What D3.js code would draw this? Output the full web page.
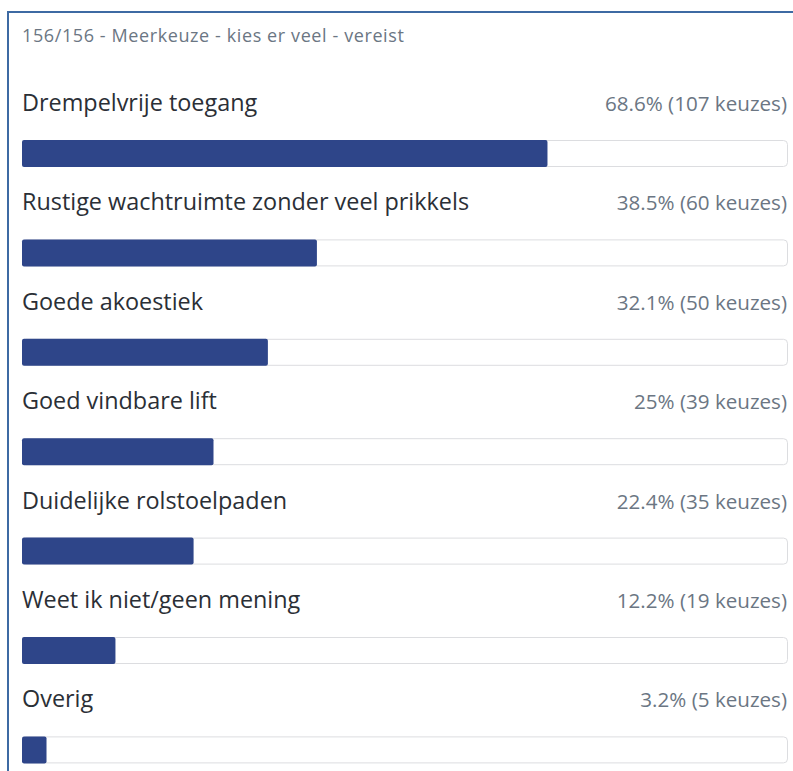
<!DOCTYPE html>
<html>
<head>
<meta charset="utf-8">
<script src="https://cdn.jsdelivr.net/npm/d3@7"></script>
<style>
  body { margin: 0; background: #fff; }
  text { font-family: "Open Sans", "Noto Sans", sans-serif; }
</style>
</head>
<body>
<div id="chart"></div>
<script>
// data
var title = "156/156 - Meerkeuze - kies er veel - vereist";
var options = ["Drempelvrije toegang", "Rustige wachtruimte zonder veel prikkels", "Goede akoestiek",
    "Goed vindbare lift", "Duidelijke rolstoelpaden", "Weet ik niet/geen mening", "Overig"];
var percents = [68.6, 38.5, 32.1, 25, 22.4, 12.2, 3.2];
var counts = [107, 60, 50, 39, 35, 19, 5];

var width = 793, height = 771;
var left = 22, right = 788;

const svg = d3.select("#chart")
    .append("svg")
    .attr("width", width)
    .attr("height", height);

// frame (top + left border only)
svg.append("line").attr("x1", 8).attr("x2", width).attr("y1", 12).attr("y2", 12)
    .attr("stroke", "#3d6aa3").attr("stroke-width", 2);
svg.append("line").attr("x1", 8).attr("x2", 8).attr("y1", 11).attr("y2", height)
    .attr("stroke", "#3d6aa3").attr("stroke-width", 2);

svg.append("text")
    .attr("x", left).attr("y", 42)
    .attr("fill", "#6b7683")
    .style("font-size", "18px")
    .style("letter-spacing", "0.6px")
    .text(title);

const x = d3.scaleLinear().domain([0, 100]).range([left, right]);
const y = d3.scalePoint().domain(options).range([103, 103 + 6 * 99.4]);

const rows = svg.selectAll(".row")
    .data(options)
    .join("g")
    .attr("class", "row")
    .attr("transform", d => `translate(0,${y(d)})`);

rows.append("text")
    .attr("x", left).attr("y", 8)
    .attr("fill", "#2b2f36")
    .style("font-size", "23.4px")
    .text(d => d);

rows.append("text")
    .attr("x", right - 1).attr("y", 8)
    .attr("text-anchor", "end")
    .attr("fill", "#6b7683")
    .style("font-size", "20.6px")
    .text((d, i) => percents[i] + "% (" + counts[i] + " keuzes)");

// track
rows.append("rect")
    .attr("x", x(0) + 0.5).attr("y", 37.5)
    .attr("width", x(100) - x(0) - 1).attr("height", 26)
    .attr("rx", 4)
    .attr("fill", "#fff")
    .attr("stroke", "#dcdde0");

// bar
rows.append("rect")
    .attr("x", x(0)).attr("y", 37)
    .attr("width", (d, i) => x(percents[i]) - x(0))
    .attr("height", 27)
    .attr("rx", 2)
    .attr("fill", "#2e4589");
</script>
</body>
</html>
